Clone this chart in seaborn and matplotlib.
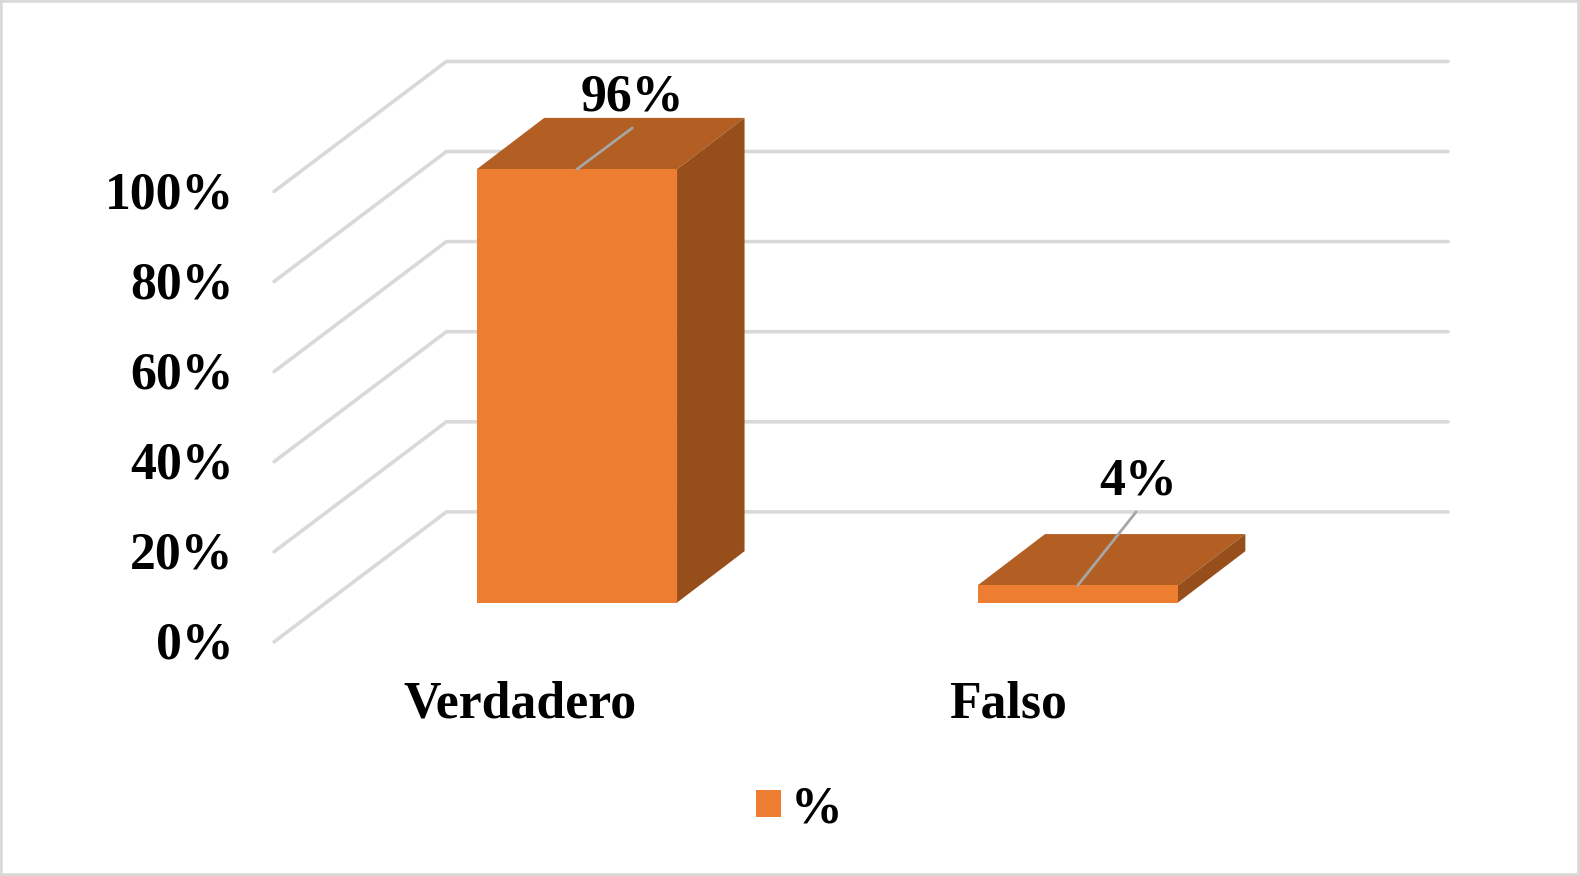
import matplotlib
matplotlib.use("Agg")
import matplotlib.pyplot as plt
from matplotlib.patches import Polygon, Rectangle
from matplotlib.transforms import Affine2D
import pandas as pd
import seaborn as sns

categories = ["Verdadero", "Falso"]
values = [96.2, 3.8]
value_labels = ["96%", "4%"]
y_ticks = [0, 20, 40, 60, 80, 100]
y_tick_labels = ["0%", "20%", "40%", "60%", "80%", "100%"]
series_name = "%"

W, H = 1580, 876
S = 1580 / 1568
sns.set_theme(style="white")
plt.rcParams["font.family"] = ["Liberation Serif", "DejaVu Serif"]
plt.rcParams["font.weight"] = "bold"
plt.rcParams["text.color"] = "black"

FRONT, TOP, SIDE = "#ED7D31", "#B35E22", "#964F1B"
GRID = "#D9D9D9"
FS = 37.3

fig = plt.figure(figsize=(W / 100, H / 100), dpi=100)
fig.add_artist(Rectangle((0, 0), 1, 1, transform=fig.transFigure, fill=False,
                         edgecolor=GRID, linewidth=4))

# axes: plane of the bar fronts
x0, x1 = 324 * S, 1318 * S
ytop, ybot = 151 * S, 598 * S
ax = fig.add_axes([x0 / W, 1 - ybot / H, (x1 - x0) / W, (ybot - ytop) / H])
ax.patch.set_alpha(0)

df = pd.DataFrame({"cat": categories, "val": values, "serie": series_name})
sns.barplot(data=df, x="cat", y="val", hue="serie", palette=[FRONT], width=0.4,
            dodge=False, ax=ax, zorder=5, linewidth=0, saturation=1)
ax.set_xlim(-0.5, 1.5)
ax.set_ylim(0, 100)
for s in ax.spines.values():
    s.set_visible(False)
ax.set_xlabel("")
ax.set_ylabel("")

px_x = (x1 - x0) / 2
px_y = (ybot - ytop) / 100
def dxc(p):
    return p * S / px_x
def dyc(p):
    return p * S / px_y

# gridlines: floor-front to back wall
for t in y_ticks:
    xs = [-0.5 - dxc(52), -0.5 + dxc(119), 1.5 + dxc(119)]
    ys = [t - dyc(39), t + dyc(90), t + dyc(90)]
    ax.plot(xs, ys, color=GRID, lw=2.6, clip_on=False, zorder=1,
            solid_joinstyle="miter")

# depth faces of the bars
ddx, ddy = dxc(67), dyc(51)
hw = 0.2
for i, v in enumerate(values):
    l, r = i - hw, i + hw
    ax.add_patch(Polygon([(l, v), (r, v), (r + ddx, v + ddy), (l + ddx, v + ddy)],
                         closed=True, fc=TOP, ec="none", clip_on=False, zorder=4))
    ax.add_patch(Polygon([(r, 0), (r, v), (r + ddx, v + ddy), (r + ddx, ddy)],
                         closed=True, fc=SIDE, ec="none", clip_on=False, zorder=4))

# value labels with leader lines
label_offsets = [(55, 41), (58, 73)]
text_offsets = [(55, 71), (60, 103)]
for i, (v, txt) in enumerate(zip(values, value_labels)):
    lo, to = label_offsets[i], text_offsets[i]
    ax.plot([i, i + dxc(lo[0])], [v, v + dyc(lo[1])], color="#A6A6A6", lw=2.0,
            clip_on=False, zorder=6)
    ax.text(i + dxc(to[0]), v + dyc(to[1]), txt, ha="center", va="center",
            fontsize=FS, fontweight="bold", color="black", clip_on=False, zorder=7)

# ticks with labels moved to the front floor plane
ax.set_yticks(y_ticks)
ax.set_yticklabels(y_tick_labels, fontsize=FS, fontweight="bold", color="black")
ax.tick_params(axis="y", length=0, pad=0)
ytrans = Affine2D().translate((232 - 324) * S, -43 * S)
for lb in ax.get_yticklabels():
    lb.set_transform(lb.get_transform() + ytrans)
    lb.set_ha("right")
    lb.set_va("center")

ax.set_xticks(range(len(categories)))
ax.set_xticklabels(categories, fontsize=FS, fontweight="bold", color="black")
ax.tick_params(axis="x", length=0, pad=0)
xshift = [-57, -69]
for lb, dx in zip(ax.get_xticklabels(), xshift):
    lb.set_transform(lb.get_transform() + Affine2D().translate(dx * S, -(699 - 598) * S))
    lb.set_va("center")
    lb.set_ha("center")

handles, labels = ax.get_legend_handles_labels()
leg = ax.legend(handles, labels, loc="center", frameon=False, fontsize=FS,
                bbox_to_anchor=(793 * S / W, 1 - 803 * S / H),
                bbox_transform=fig.transFigure, handlelength=0.49, handleheight=0.41,
                handletextpad=0.19, borderpad=0, labelcolor="black")

fig.savefig("out.png", dpi=100, facecolor="white")
